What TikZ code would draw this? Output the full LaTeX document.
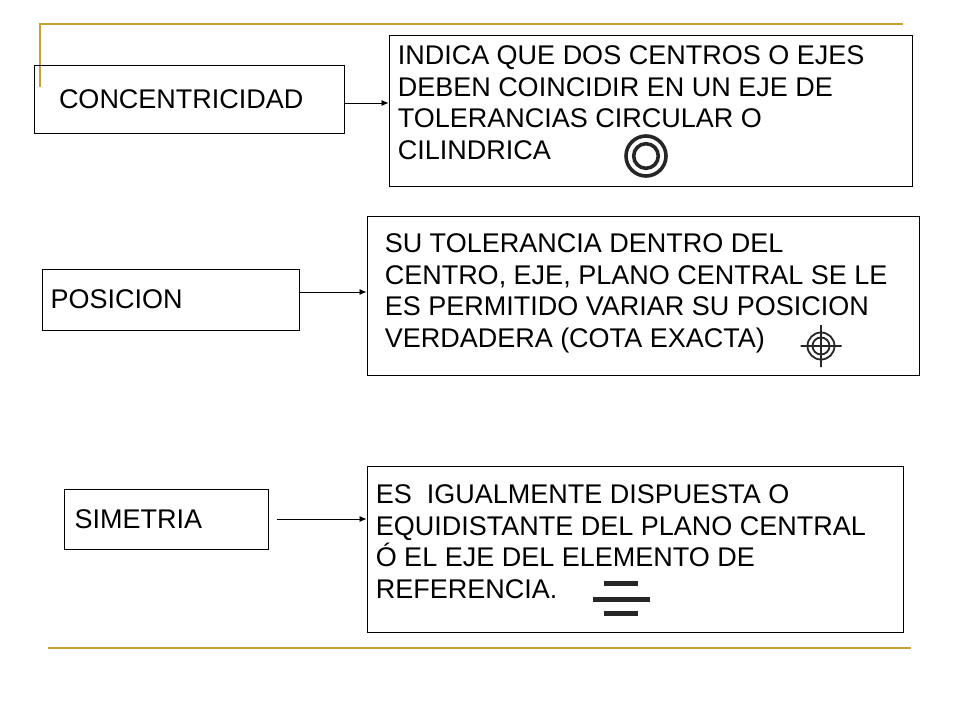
\documentclass[tikz,border=0pt]{standalone}
\usepackage{fontspec}
\setmainfont{Liberation Sans}
\usepackage{xcolor}
\usepackage{tikz}
\usetikzlibrary{arrows.meta,calc}
\definecolor{dorado}{RGB}{200,162,46}
\newcommand{\LetraTam}{\fontsize{27}{31.5}\selectfont}
\tikzset{
  caja/.style={draw, line width=0.9pt, inner sep=0pt},            % rectangulo simple
  titulo/.style={caja, align=left, font=\LetraTam},               % caja de la izquierda
  texto/.style={inner sep=0pt, anchor=north west, align=left, font=\LetraTam},
  flecha/.style={-{Latex[length=7pt,width=6pt]}, line width=0.8pt},
  guia/.style={draw=dorado, line width=2.8pt},                     % lineas doradas
  simb/.style={black!85, line width=3.6pt}
}

\begin{document}
\begin{tikzpicture}[x=1pt, y=-1pt]
  \useasboundingbox (0,0) rectangle (960,720);
  % lineas doradas
  \draw[guia] (40,87) -- (40,24) -- (903,24);
  \draw[guia] (48,648) -- (911,648);
  % cajas de la izquierda
  \node[titulo, text width=260pt, inner xsep=25pt, minimum height=68pt] (conc) at (189,99) {CONCENTRICIDAD};
  \node[titulo, text width=240pt, inner xsep=8.5pt, minimum height=61pt] (pos) at (170.5,299.5) {POSICION};
  \node[titulo, text width=183pt, inner xsep=10.5pt, minimum height=60pt] (sim) at (166,519) {SIMETRIA};
  % cajas de la derecha
  \node[caja, minimum width=523pt, minimum height=151pt] (concdesc) at (650.5,110.5) {};
  \node[caja, minimum width=552pt, minimum height=159pt] (posdesc) at (643,295.5) {};
  \node[caja, minimum width=536pt, minimum height=166pt] (simdesc) at (635,549) {};
  \node[texto] (concdesc-txt) at ([shift={(9pt,-11pt)}]concdesc.north west)
    {INDICA QUE DOS CENTROS O EJES\\DEBEN COINCIDIR EN UN EJE DE\\TOLERANCIAS CIRCULAR O\\CILINDRICA};
  \node[texto] (posdesc-txt) at ([shift={(18pt,-18pt)}]posdesc.north west)
    {SU TOLERANCIA DENTRO DEL\\CENTRO, EJE, PLANO CENTRAL SE LE\\ES PERMITIDO VARIAR SU POSICION\\VERDADERA (COTA EXACTA)};
  \node[texto] (simdesc-txt) at ([shift={(9pt,-19pt)}]simdesc.north west)
    {ES\ \ IGUALMENTE DISPUESTA O\\EQUIDISTANTE DEL PLANO CENTRAL\\Ó EL EJE DEL ELEMENTO DE\\REFERENCIA.};
  % flechas
  \coordinate (c1) at ([yshift=-4pt]conc.east);
  \coordinate (c2) at ([yshift=7.5pt]pos.east);
  \draw[flecha] (c1) -- (c1 -| concdesc.west);
  \draw[flecha] (c2) -- (c2 -| posdesc.west);
  \draw[flecha, shorten <=9pt] (sim.east) -- (sim.east -| simdesc.west);
  % simbolos
  \draw[simb] (646,156) circle[radius=20pt] circle[radius=12.3pt];
  \draw[black!85, line width=1.8pt] (821,346) circle[radius=13.5pt] circle[radius=8.5pt]
    (800.5,346) -- (841.5,346) (821,325) -- (821,367);
  \draw[black!85, line width=5pt] (604,583) -- (638,583) (593,599) -- (650,599) (604,613) -- (638,613);
\end{tikzpicture}
\end{document}
